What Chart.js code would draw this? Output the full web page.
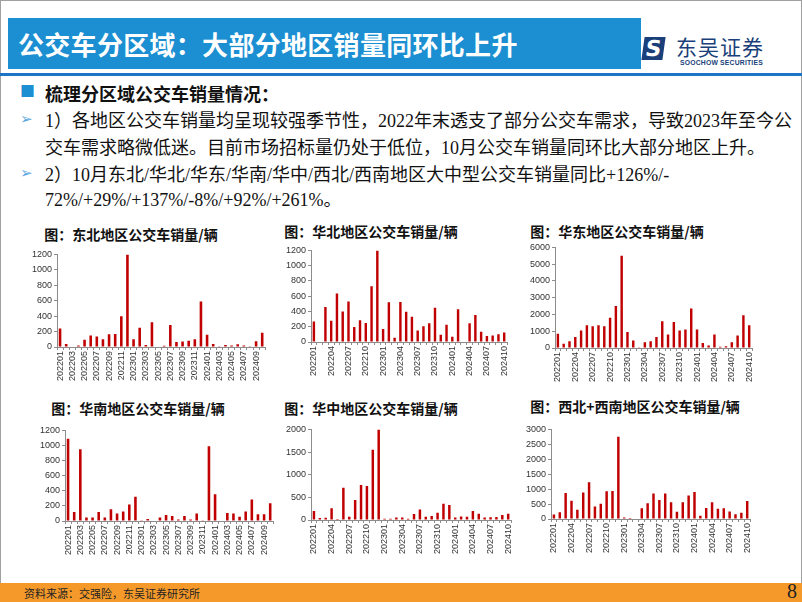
<!DOCTYPE html>
<html>
<head>
<meta charset="utf-8">
<script src="https://cdn.jsdelivr.net/npm/chart.js@4.4.0/dist/chart.umd.min.js"></script>
<style>
  body { margin: 0; width: 802px; height: 602px; position: relative; overflow: hidden; background: #fff;
         font-family: "Noto Sans CJK SC", sans-serif; }
  .frame { position: absolute; left: 0; top: 0; width: 800px; height: 600px; border: 1px solid #a0a0a0; }
  .hd { position: absolute; left: 8px; top: 18px; width: 633px; height: 51px; background: #1b8fd2; }
  .hd span { position: absolute; left: 10px; top: 7px; color: #fff; font-size: 26px; font-weight: bold; letter-spacing: 0.3px; }
  .rule { position: absolute; left: 0; top: 73px; width: 802px; height: 3px; background: #1c75c4; }
  .logo-ic { position: absolute; left: 643px; top: 37px; width: 21px; height: 23px; background: #1a3f7a; color: #fff;
             font: bold 22px/23px "DejaVu Sans"; text-align: center; transform: skewX(-8deg); }
  .logo-cn { position: absolute; left: 676px; top: 31px; font-size: 21px; color: #1a3f7a; letter-spacing: 1px; }
  .logo-en { position: absolute; left: 680px; top: 59px; font: bold 6.8px "Liberation Sans"; color: #1a3f7a; letter-spacing: 0.2px; }
  .txt { position: absolute; left: 45px; font-size: 18px; color: #111; white-space: nowrap;
         font-family: "Liberation Serif", "Noto Sans CJK SC", serif; }
  .mark { position: absolute; left: 20px; color: #1b8fd2; font-size: 15px; }
  .ct { position: absolute; font-size: 14px; font-weight: bold; color: #111; white-space: nowrap; transform: translateX(-50%); }
  .box { position: absolute; }
  .foot { position: absolute; left: 0; top: 583px; width: 802px; height: 19px; background: #f59a2a; }
  .foot span { position: absolute; left: 24px; top: 2px; font-size: 11px; color: #222; }
  .foot b { position: absolute; left: 787px; top: -3px; font: 20px "Liberation Serif"; color: #222; font-weight: normal; }
</style>
</head>
<body>
<div class="frame"></div>
<div class="hd"><span>公交车分区域：大部分地区销量同环比上升</span></div>
<div class="logo-ic">S</div>
<div class="logo-cn">东吴证券</div>
<div class="logo-en">SOOCHOW SECURITIES</div>
<div class="rule"></div>

<div class="mark" style="top:80px;">■</div>
<div class="txt" style="top:80px;font-weight:bold;font-family:'Noto Sans CJK SC';">梳理分区域公交车销量情况：</div>
<div class="mark" style="top:107px;color:#5aa8e0;">➢</div>
<div class="txt" style="top:106px;">1）各地区公交车销量均呈现较强季节性，2022年末透支了部分公交车需求，导致2023年至今公</div>
<div class="txt" style="top:133px;">交车需求略微低迷。目前市场招标量仍处于低位，10月公交车销量同环比大部分地区上升。</div>
<div class="mark" style="top:161px;color:#5aa8e0;">➢</div>
<div class="txt" style="top:160px;">2）10月东北/华北/华东/华南/华中/西北/西南地区大中型公交车销量同比+126%/-</div>
<div class="txt" style="top:185px;">72%/+29%/+137%/-8%/+92%/+261%。</div>

<div class="ct" style="left:131px;top:224px;">图：东北地区公交车销量/辆</div>
<div class="ct" style="left:371px;top:221px;">图：华北地区公交车销量/辆</div>
<div class="ct" style="left:617px;top:221px;">图：华东地区公交车销量/辆</div>
<div class="ct" style="left:138px;top:398px;">图：华南地区公交车销量/辆</div>
<div class="ct" style="left:371px;top:398px;">图：华中地区公交车销量/辆</div>
<div class="ct" style="left:635px;top:396px;">图：西北+西南地区公交车销量/辆</div>

<div class="box" style="left:19px;top:247px;"><canvas id="c1" width="255" height="136"></canvas></div>
<div class="box" style="left:273px;top:243px;"><canvas id="c2" width="243" height="135"></canvas></div>
<div class="box" style="left:517px;top:240px;"><canvas id="c3" width="244" height="144"></canvas></div>
<div class="box" style="left:27px;top:423px;"><canvas id="c4" width="255" height="134"></canvas></div>
<div class="box" style="left:273px;top:422px;"><canvas id="c5" width="247" height="134"></canvas></div>
<div class="box" style="left:513px;top:422px;"><canvas id="c6" width="246" height="133"></canvas></div>

<div class="foot"><span>资料来源：交强险，东吴证券研究所</span><b>8</b></div>

<script>
const months = ['202201','202202','202203','202204','202205','202206','202207','202208','202209','202210','202211','202212',
                '202301','202302','202303','202304','202305','202306','202307','202308','202309','202310','202311','202312',
                '202401','202402','202403','202404','202405','202406','202407','202408','202409','202410'];

// 大中型公交车销量, 辆
const dongbei   = [240, 40, 8, 20, 95, 150, 135, 100, 165, 170, 400, 1200,
                   100, 250, 25, 320, 5, 15, 285, 65, 70, 80, 100, 590,
                   160, 40, 10, 25, 20, 35, 20, 10, 75, 185];
const huabei    = [270, 0, 460, 280, 635, 400, 530, 195, 285, 250, 730, 1200,
                   170, 520, 55, 525, 395, 330, 150, 205, 245, 450, 95, 225,
                   70, 430, 0, 245, 355, 135, 80, 85, 100, 125];
const huadong   = [850, 250, 400, 650, 1050, 1350, 1300, 1350, 1300, 1800, 2500, 5500,
                   950, 450, 50, 350, 400, 650, 1600, 800, 1550, 1050, 1100, 2350,
                   1100, 300, 150, 800, 80, 100, 350, 750, 1950, 1350];
const huanan    = [1090, 120, 950, 45, 45, 120, 45, 155, 100, 125, 220, 320,
                   10, 25, 0, 45, 80, 65, 20, 65, 20, 100, 10, 990,
                   355, 0, 105, 100, 55, 125, 285, 90, 90, 235];
const huazhong  = [200, 45, 50, 260, 20, 710, 70, 440, 770, 750, 1550, 2000,
                   30, 30, 55, 55, 30, 130, 230, 70, 90, 160, 360, 330,
                   55, 75, 70, 200, 140, 55, 60, 65, 110, 140];
const xibeiXinan = [150, 230, 870, 610, 310, 890, 1230, 420, 510, 930, 940, 2750,
                    50, 30, 20, 360, 530, 850, 640, 850, 560, 240, 560, 790,
                    900, 110, 370, 560, 340, 360, 250, 160, 210, 600];

const axisColor = '#8c8c8c';
const tickFont = { family: 'Liberation Sans', size: 9 };

function drawBars(id, values, yMax, yStep, every) {
  new Chart(document.getElementById(id), {
    type: 'bar',
    data: {
      labels: months,
      datasets: [{ data: values, backgroundColor: '#c00000', barPercentage: 0.42, categoryPercentage: 1 }]
    },
    options: {
      responsive: false,
      animation: false,
      layout: { padding: { top: 6, right: 0, left: 0, bottom: 0 } },
      plugins: { legend: { display: false }, tooltip: { enabled: false } },
      scales: {
        x: {
          grid: { display: true, drawOnChartArea: false, tickLength: 3, color: axisColor },
          border: { color: axisColor },
          ticks: {
            autoSkip: false, maxRotation: 90, minRotation: 90, padding: 1,
            font: tickFont, color: '#333',
            callback: function (v, i) { return i % every == 0 ? this.getLabelForValue(v) : ''; }
          },
          afterFit: a => { a.height = 36; }
        },
        y: {
          min: 0, max: yMax,
          grid: { display: true, drawOnChartArea: false, tickLength: 3, color: axisColor },
          border: { color: axisColor },
          ticks: { stepSize: yStep, font: tickFont, color: '#333', padding: 2, callback: v => String(v) },
          afterFit: a => { a.width = 38; }
        }
      }
    }
  });
}

drawBars('c1', dongbei, 1200, 200, 2);
drawBars('c2', huabei, 1200, 200, 3);
drawBars('c3', huadong, 6000, 1000, 3);
drawBars('c4', huanan, 1200, 200, 2);
drawBars('c5', huazhong, 2000, 500, 3);
drawBars('c6', xibeiXinan, 3000, 500, 3);
</script>
</body>
</html>
